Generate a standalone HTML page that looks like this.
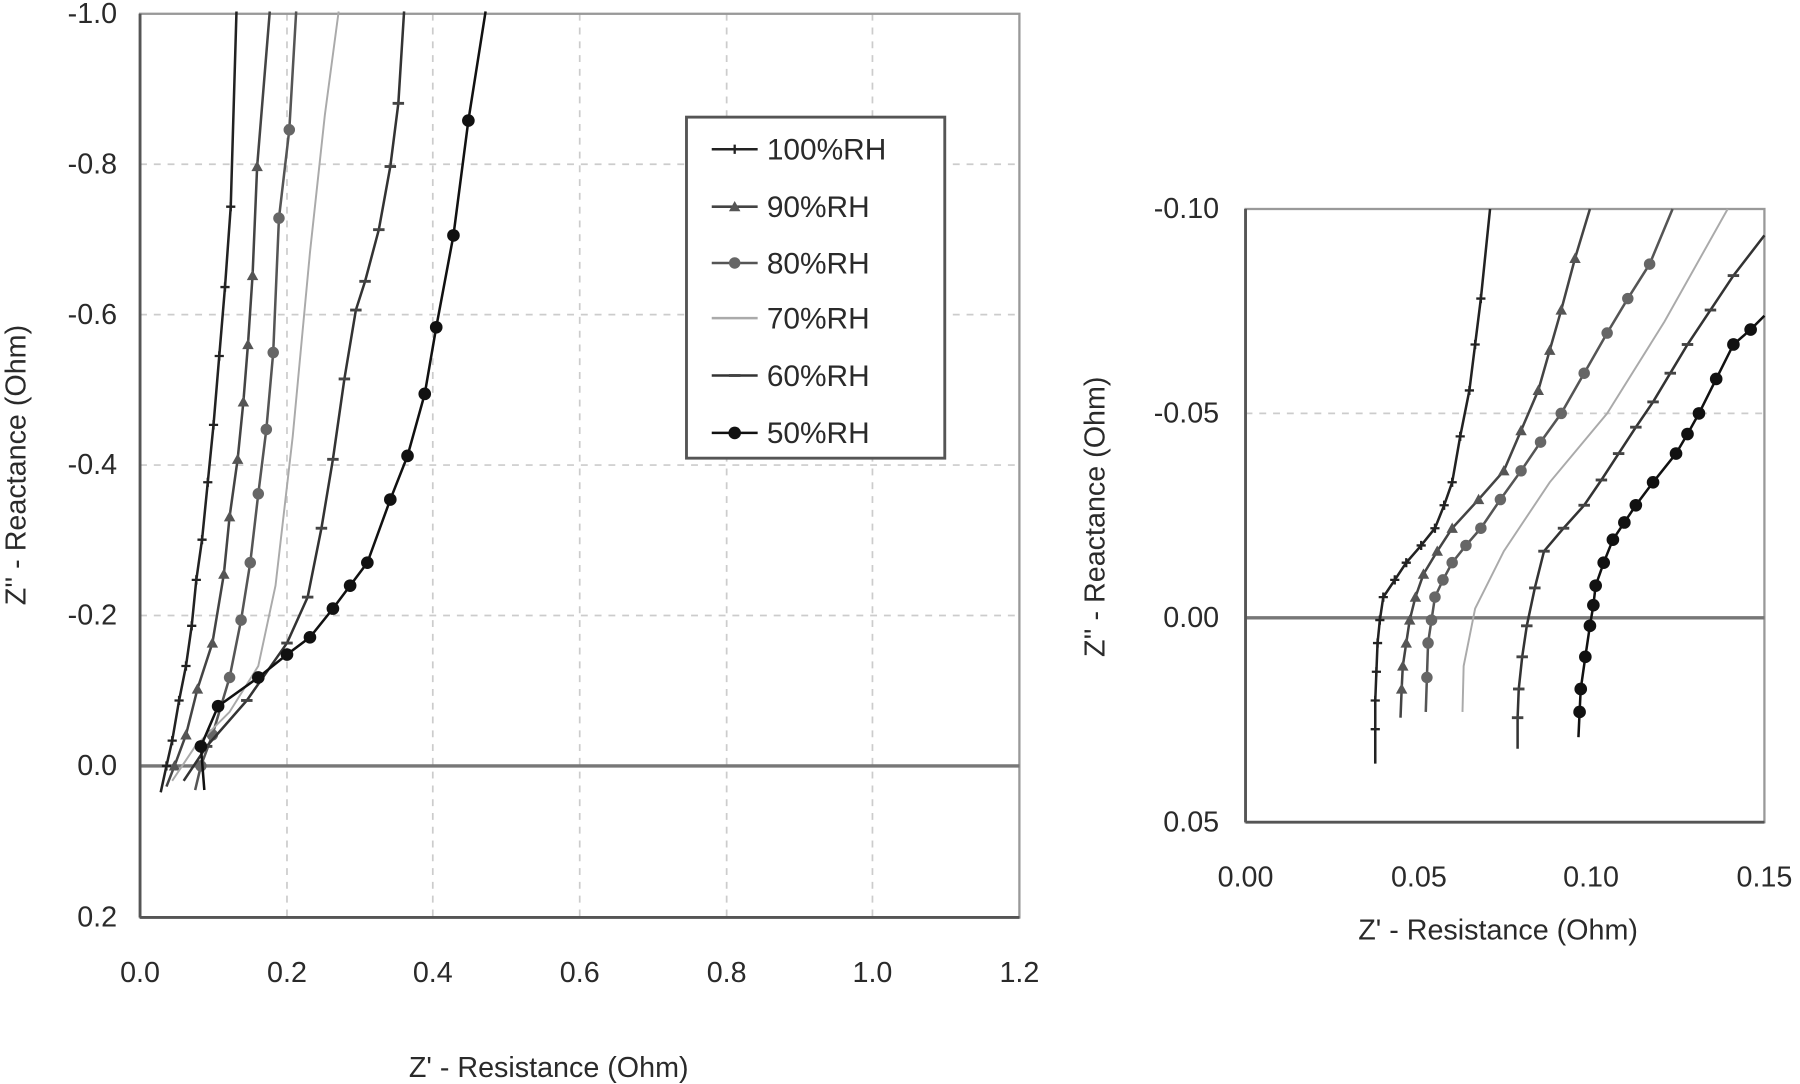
<!DOCTYPE html>
<html><head><style>body{margin:0;background:#fff}svg{display:block}text{font-family:"Liberation Sans",sans-serif;fill:#2a2a2a}</style></head><body>
<svg width="1800" height="1084" viewBox="0 0 1568 944" preserveAspectRatio="none">
<defs>
<marker id="mp" viewBox="-5 -5 10 10" markerWidth="10" markerHeight="10" markerUnits="userSpaceOnUse"><path d="M-4 0H4M0 -4V4" stroke="#222" stroke-width="2"/></marker>
<marker id="mt" viewBox="-6 -6 12 12" markerWidth="12" markerHeight="12" markerUnits="userSpaceOnUse"><path d="M0 -5L5 4H-5Z" fill="#555"/></marker>
<marker id="mc" viewBox="-6 -6 12 12" markerWidth="12" markerHeight="12" markerUnits="userSpaceOnUse"><circle r="5" fill="#666"/></marker>
<marker id="mh" viewBox="-6 -6 12 12" markerWidth="12" markerHeight="12" markerUnits="userSpaceOnUse"><path d="M-5 0H5" stroke="#444" stroke-width="2.5"/></marker>
<marker id="md" viewBox="-6 -6 12 12" markerWidth="12" markerHeight="12" markerUnits="userSpaceOnUse"><circle r="5.5" fill="#111"/></marker>
</defs>
<g stroke="#ccc" stroke-dasharray="6,6" stroke-width="1.5">
<path d="M122 143H888M122 274H888M122 405H888M122 536H888"/>
<path d="M250 12V799M377 12V799M505 12V799M633 12V799M760 12V799"/>
</g>
<rect x="122" y="12" width="766" height="787" fill="none" stroke="#999" stroke-width="2"/>
<path d="M122 667H888" stroke="#777" stroke-width="3"/>
<path d="M122 799H888" stroke="#555" stroke-width="2.5"/>
<path d="M122 12V799" stroke="#555" stroke-width="2.5"/>
<g font-size="25" text-anchor="end">
<text x="102" y="20">-1.0</text><text x="102" y="151">-0.8</text><text x="102" y="282">-0.6</text><text x="102" y="413">-0.4</text><text x="102" y="544">-0.2</text><text x="102" y="675">0.0</text><text x="102" y="807">0.2</text>
</g>
<g font-size="25" text-anchor="middle">
<text x="122" y="855">0.0</text><text x="250" y="855">0.2</text><text x="377" y="855">0.4</text><text x="505" y="855">0.6</text><text x="633" y="855">0.8</text><text x="760" y="855">1.0</text><text x="888" y="855">1.2</text>
<text x="478" y="938">Z' - Resistance (Ohm)</text>
<text transform="translate(22,405) rotate(-90)">Z'' - Reactance (Ohm)</text>
</g>
<g fill="none" stroke-width="2.2">
<polyline stroke="#222" marker-mid="url(#mp)" points="140,690 145,667 150,645 156,610 162,580 167,545 171,505 176,470 181,420 186,370 191,310 196,250 201,180 206,10"/>
<polyline stroke="#444" marker-mid="url(#mt)" points="145,685 152,667 162,640 172,600 185,560 195,500 200,450 207,400 212,350 216,300 220,240 224,145 235,10"/>
<polyline stroke="#555" marker-mid="url(#mc)" points="170,688 175,667 185,640 200,590 210,540 218,490 225,430 232,374 238,307 243,190 252,113 258,10"/>
<polyline stroke="#aaa" stroke-width="1.7" points="150,680 170,650 200,620 225,580 240,510 255,380 270,220 283,100 295,10"/>
<polyline stroke="#333" marker-mid="url(#mh)" points="160,680 180,650 215,610 250,560 268,520 280,460 290,400 300,330 310,270 318,245 330,200 340,145 347,90 352,10"/>
<polyline stroke="#111" marker-mid="url(#md)" points="178,688 175,650 190,615 225,590 250,570 270,555 290,530 305,510 320,490 340,435 355,397 370,343 380,285 395,205 408,105 423,10"/>
</g>
<rect x="598" y="102" width="225" height="297" fill="#fff" stroke="#555" stroke-width="2.5"/>
<g font-size="26">
<text x="668" y="139">100%RH</text><text x="668" y="189">90%RH</text><text x="668" y="238">80%RH</text><text x="668" y="286">70%RH</text><text x="668" y="336">60%RH</text><text x="668" y="386">50%RH</text>
</g>
<g stroke-width="2.2" fill="none">
<polyline points="620,130 640,130 660,130" stroke="#222" marker-mid="url(#mp)"/>
<polyline points="620,180 640,180 660,180" stroke="#444" marker-mid="url(#mt)"/>
<polyline points="620,229 640,229 660,229" stroke="#555" marker-mid="url(#mc)"/>
<polyline points="620,277 640,277 660,277" stroke="#aaa"/>
<polyline points="620,327 640,327 660,327" stroke="#333" marker-mid="url(#mh)"/>
<polyline points="620,377 640,377 660,377" stroke="#111" marker-mid="url(#md)"/>
</g>
<path d="M1085 360H1537" stroke="#ccc" stroke-dasharray="6,6" stroke-width="1.5"/>
<rect x="1085" y="182" width="452" height="534" fill="none" stroke="#999" stroke-width="2"/>
<path d="M1085 538H1537" stroke="#777" stroke-width="3"/>
<path d="M1085 716H1537M1085 182V716" stroke="#555" stroke-width="2.5"/>
<g font-size="25" text-anchor="end">
<text x="1062" y="190">-0.10</text><text x="1062" y="368">-0.05</text><text x="1062" y="546">0.00</text><text x="1062" y="724">0.05</text>
</g>
<g font-size="25" text-anchor="middle">
<text x="1085" y="772">0.00</text><text x="1236" y="772">0.05</text><text x="1386" y="772">0.10</text><text x="1537" y="772">0.15</text>
<text x="1305" y="818">Z' - Resistance (Ohm)</text>
<text transform="translate(962,450) rotate(-90)">Z'' - Reactance (Ohm)</text>
</g>
<g fill="none" stroke-width="2.2">
<polyline stroke="#222" marker-mid="url(#mp)" points="1198,665 1198,635 1198,610 1199,585 1200,560 1202,540 1205,520 1215,505 1225,490 1238,475 1250,460 1258,440 1265,420 1272,380 1280,340 1285,300 1290,260 1298,182"/>
<polyline stroke="#444" marker-mid="url(#mt)" points="1220,625 1221,600 1222,580 1225,560 1228,540 1233,520 1240,500 1252,480 1265,460 1288,435 1310,410 1325,375 1340,340 1350,305 1360,270 1372,225 1385,182"/>
<polyline stroke="#555" marker-mid="url(#mc)" points="1242,620 1243,590 1244,560 1247,540 1250,520 1257,505 1265,490 1277,475 1290,460 1307,435 1325,410 1342,385 1360,360 1380,325 1400,290 1418,260 1437,230 1457,182"/>
<polyline stroke="#aaa" stroke-width="1.7" points="1274,620 1275,580 1285,530 1310,480 1350,420 1400,360 1450,280 1505,182"/>
<polyline stroke="#333" marker-mid="url(#mh)" points="1322,652 1322,625 1323,600 1326,572 1330,545 1337,512 1345,480 1362,460 1380,440 1395,418 1410,395 1425,372 1440,350 1455,325 1470,300 1490,270 1510,240 1537,205"/>
<polyline stroke="#111" marker-mid="url(#md)" points="1375,642 1376,620 1377,600 1381,572 1385,545 1388,527 1390,510 1397,490 1405,470 1415,455 1425,440 1440,420 1460,395 1470,378 1480,360 1495,330 1510,300 1525,287 1537,275"/>
</g>
</svg>
</body></html>
